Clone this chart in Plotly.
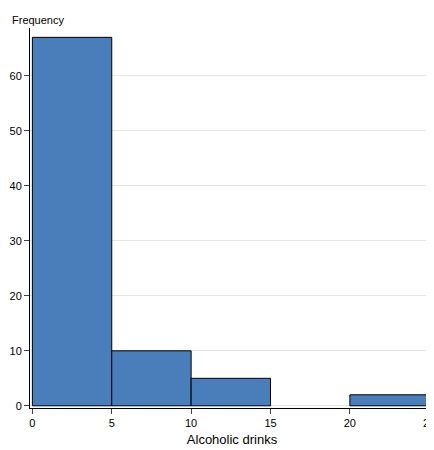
import plotly.graph_objects as go

bin_starts = [0, 5, 10, 15, 20]
counts = [67, 10, 5, 0, 2]
bin_width = 5

xs = [b + bin_width / 2 for b, c in zip(bin_starts, counts) if c > 0]
ys = [c for c in counts if c > 0]

fig = go.Figure(go.Bar(
    x=xs, y=ys, width=bin_width,
    marker=dict(color="#4a7ebb", line=dict(color="black", width=1)),
))
fig.update_layout(
    width=434, height=450, plot_bgcolor="white", paper_bgcolor="white",
    margin=dict(l=22, r=8, t=20, b=50), showlegend=False,
    font=dict(family="Liberation Sans, Arial", size=11, color="black"),
    annotations=[dict(text="Frequency", x=0, y=1, xref="paper", yref="paper",
                      xanchor="left", yanchor="bottom", showarrow=False, xshift=-20, yshift=0)],
)
fig.update_xaxes(range=[-0.15, 25.3], tickvals=[0, 5, 10, 15, 20, 25], ticks="outside",
                 ticklen=5, showline=True, linecolor="black", showgrid=False, zeroline=False,
                 automargin=False, title=dict(text="Alcoholic drinks", standoff=6))
fig.update_yaxes(range=[-0.4, 68.7], tickvals=[0, 10, 20, 30, 40, 50, 60], ticks="outside",
                 ticklen=5, showline=True, linecolor="black", gridcolor="#e6e6e6", zeroline=False,
                 automargin=False)
fig.write_html("out.html")
